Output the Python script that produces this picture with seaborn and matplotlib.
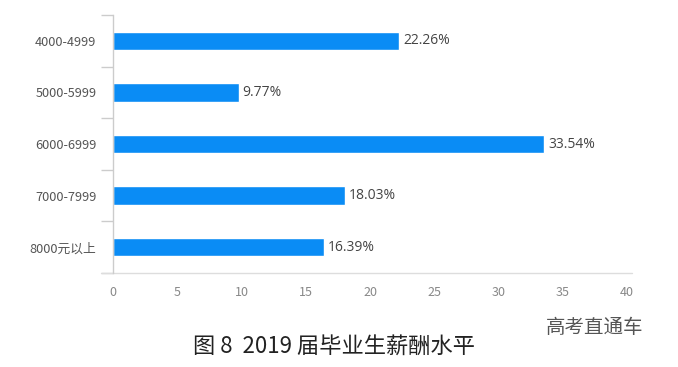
import matplotlib
matplotlib.use("Agg")
import matplotlib.pyplot as plt
import seaborn as sns
import pandas as pd

categories = ["4000-4999", "5000-5999", "6000-6999", "7000-7999", "8000元以上"]
values = [22.26, 9.77, 33.54, 18.03, 16.39]
labels = ["22.26%", "9.77%", "33.54%", "18.03%", "16.39%"]
xticks = [0, 5, 10, 15, 20, 25, 30, 35, 40]

sns.set_theme(style="white")
plt.rcParams['font.family'] = ['Noto Sans CJK SC', 'DejaVu Sans']

df = pd.DataFrame({"cat": categories, "val": values})

fig = plt.figure(figsize=(6.78, 3.67), dpi=100)
ax = fig.add_axes([0.1667, 0.2561, 0.758, 0.703])
sns.barplot(data=df, y="cat", x="val", orient="h", color="#0A8CF5",
            saturation=1, width=0.36, ax=ax)

ax.set_xlim(0, 40)
ax.set_ylim(4.5, -0.5)
ax.set_xticks(xticks)
ax.set_xticklabels([str(t) for t in xticks], fontsize=9, color="#888888")
ax.set_yticklabels(categories, fontsize=9.2, color="#555555")
ax.set_xlabel("")
ax.set_ylabel("")
ax.tick_params(axis="x", length=0, pad=9)
ax.tick_params(axis="y", which="major", length=0, pad=12)
ax.set_yticks([-0.5, 0.5, 1.5, 2.5, 3.5, 4.5], minor=True)
ax.tick_params(axis="y", which="minor", length=9, color="#cccccc", width=1, left=True)

for s in ["top", "right", "bottom"]:
    ax.spines[s].set_visible(False)
ax.spines["left"].set_color("#cccccc")
ax.spines["left"].set_linewidth(1)
ax.plot([-0.023, 1.01], [0, 0], transform=ax.transAxes, clip_on=False,
        color="#dddddd", lw=1)

for i, (v, lab) in enumerate(zip(values, labels)):
    ax.annotate(lab, (v, i), xytext=(3, 0), textcoords="offset points",
                va="center", ha="left", fontsize=10, color="#444444",
                family=["Open Sans", "DejaVu Sans"])

fig.text(0.492, 0.055, "图 8  2019 届毕业生薪酬水平", ha="center", va="center",
         fontsize=16, color="#222222")
fig.text(0.877, 0.108, "高考直通车", ha="center", va="center",
         fontsize=14, color="#555555")

fig.savefig("out.png", dpi=100)
